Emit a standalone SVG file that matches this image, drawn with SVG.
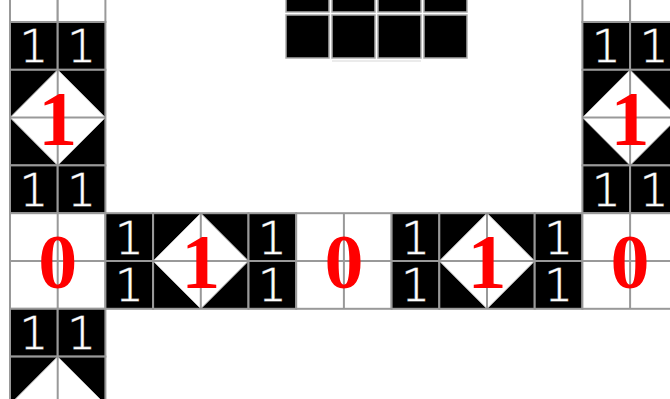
<svg xmlns="http://www.w3.org/2000/svg" width="670" height="399" viewBox="0 0 670 399">
<style>
.blk{fill:#000;stroke:#999;stroke-width:2}
.wht{fill:#fff;stroke:#999;stroke-width:2}
.sq{fill:#000;stroke:#aaa;stroke-width:1.5}
.dia{fill:#fff;stroke:#bbb;stroke-width:1}
.grid{fill:none;stroke:#999;stroke-width:2}
.one{font-family:"DejaVu Sans","Liberation Sans",sans-serif;font-weight:200;font-size:45px;fill:#fff;stroke:#999;stroke-width:1.2;paint-order:stroke;text-anchor:middle}
.red{font-family:"Liberation Serif","DejaVu Serif",serif;font-weight:bold;font-size:78px;fill:#f00;text-anchor:middle}
</style>
<rect width="670" height="399" fill="#fff"/>

<!-- top middle squares -->
<g id="top-squares">
<rect class="sq" x="286" y="-31" width="43" height="43"/>
<rect class="sq" x="332" y="-31" width="43" height="43"/>
<rect class="sq" x="378" y="-31" width="43" height="43"/>
<rect class="sq" x="424" y="-31" width="43" height="43"/>
<rect class="sq" x="286" y="15" width="43" height="43"/>
<rect class="sq" x="332" y="15" width="43" height="43"/>
<rect class="sq" x="378" y="15" width="43" height="43"/>
<rect class="sq" x="424" y="15" width="43" height="43"/>
<line x1="332" y1="61" x2="421" y2="61" stroke="#e4e4e4" stroke-width="1.5"/>
</g>

<!-- left column -->
<g id="L-top">
<rect class="wht" x="10" y="-25.8" width="47.7" height="47.8"/>
<rect class="wht" x="57.7" y="-25.8" width="47.7" height="47.8"/>
</g>
<g id="L-ones-1">
<rect class="blk" x="10" y="22" width="47.7" height="47.8"/>
<rect class="blk" x="57.7" y="22" width="47.7" height="47.8"/>
<text class="one" x="33.9" y="62.3">1</text>
<text class="one" x="81.6" y="62.3">1</text>
</g>
<g id="L-diamond-1">
<rect x="10" y="69.8" width="95.4" height="95.6" fill="#000"/>
<polygon class="dia" points="57.7,69.8 105.4,117.6 57.7,165.4 10,117.6"/>
<rect class="grid" x="10" y="69.8" width="95.4" height="95.6"/>
<path class="grid" d="M57.7,69.8V165.4M10,117.6H105.4"/>
<text class="red" x="57.7" y="144.6">1</text>
</g>
<g id="L-ones-2">
<rect class="blk" x="10" y="165.4" width="47.7" height="47.8"/>
<rect class="blk" x="57.7" y="165.4" width="47.7" height="47.8"/>
<text class="one" x="33.9" y="205.7">1</text>
<text class="one" x="81.6" y="205.7">1</text>
</g>
<g id="L-zero">
<rect class="wht" x="10" y="213.2" width="95.4" height="95.6"/>
<path class="grid" d="M57.7,213.2V308.8M10,261H105.4"/>
<text class="red" x="57.7" y="288">0</text>
</g>
<g id="L-ones-3">
<rect class="blk" x="10" y="308.8" width="47.7" height="47.8"/>
<rect class="blk" x="57.7" y="308.8" width="47.7" height="47.8"/>
<text class="one" x="33.9" y="349.1">1</text>
<text class="one" x="81.6" y="349.1">1</text>
</g>
<g id="L-diamond-2">
<rect x="10" y="356.6" width="95.4" height="95.6" fill="#000"/>
<polygon class="dia" points="57.7,356.6 105.4,404.4 57.7,452.2 10,404.4"/>
<rect class="grid" x="10" y="356.6" width="95.4" height="95.6"/>
<path class="grid" d="M57.7,356.6V452.2M10,404.4H105.4"/>
</g>

<!-- horizontal bar -->
<g id="B-ones-1">
<rect class="blk" x="105.4" y="213.2" width="47.7" height="47.8"/>
<rect class="blk" x="105.4" y="261" width="47.7" height="47.8"/>
<text class="one" x="129.3" y="253.5">1</text>
<text class="one" x="129.3" y="301.3">1</text>
</g>
<g id="B-diamond-1">
<rect x="153.1" y="213.2" width="95.4" height="95.6" fill="#000"/>
<polygon class="dia" points="200.8,213.2 248.5,261 200.8,308.8 153.1,261"/>
<rect class="grid" x="153.1" y="213.2" width="95.4" height="95.6"/>
<path class="grid" d="M200.8,213.2V308.8M153.1,261H248.5"/>
<text class="red" x="200.8" y="288">1</text>
</g>
<g id="B-ones-2">
<rect class="blk" x="248.5" y="213.2" width="47.7" height="47.8"/>
<rect class="blk" x="248.5" y="261" width="47.7" height="47.8"/>
<text class="one" x="272.4" y="253.5">1</text>
<text class="one" x="272.4" y="301.3">1</text>
</g>
<g id="B-zero">
<rect class="wht" x="296.2" y="213.2" width="95.4" height="95.6"/>
<path class="grid" d="M343.9,213.2V308.8M296.2,261H391.6"/>
<text class="red" x="343.9" y="288">0</text>
</g>
<g id="B-ones-3">
<rect class="blk" x="391.6" y="213.2" width="47.7" height="47.8"/>
<rect class="blk" x="391.6" y="261" width="47.7" height="47.8"/>
<text class="one" x="415.5" y="253.5">1</text>
<text class="one" x="415.5" y="301.3">1</text>
</g>
<g id="B-diamond-2">
<rect x="439.3" y="213.2" width="95.4" height="95.6" fill="#000"/>
<polygon class="dia" points="487,213.2 534.7,261 487,308.8 439.3,261"/>
<rect class="grid" x="439.3" y="213.2" width="95.4" height="95.6"/>
<path class="grid" d="M487,213.2V308.8M439.3,261H534.7"/>
<text class="red" x="487" y="288">1</text>
</g>
<g id="B-ones-4">
<rect class="blk" x="534.7" y="213.2" width="47.7" height="47.8"/>
<rect class="blk" x="534.7" y="261" width="47.7" height="47.8"/>
<text class="one" x="558.6" y="253.5">1</text>
<text class="one" x="558.6" y="301.3">1</text>
</g>

<!-- right column -->
<g id="R-top">
<rect class="wht" x="582.4" y="-25.8" width="47.7" height="47.8"/>
<rect class="wht" x="630.1" y="-25.8" width="47.7" height="47.8"/>
</g>
<g id="R-ones-1">
<rect class="blk" x="582.4" y="22" width="47.7" height="47.8"/>
<rect class="blk" x="630.1" y="22" width="47.7" height="47.8"/>
<text class="one" x="606.3" y="62.3">1</text>
<text class="one" x="654" y="62.3">1</text>
</g>
<g id="R-diamond">
<rect x="582.4" y="69.8" width="95.4" height="95.6" fill="#000"/>
<polygon class="dia" points="630.1,69.8 677.8,117.6 630.1,165.4 582.4,117.6"/>
<rect class="grid" x="582.4" y="69.8" width="95.4" height="95.6"/>
<path class="grid" d="M630.1,69.8V165.4M582.4,117.6H677.8"/>
<text class="red" x="630.1" y="144.6">1</text>
</g>
<g id="R-ones-2">
<rect class="blk" x="582.4" y="165.4" width="47.7" height="47.8"/>
<rect class="blk" x="630.1" y="165.4" width="47.7" height="47.8"/>
<text class="one" x="606.3" y="205.7">1</text>
<text class="one" x="654" y="205.7">1</text>
</g>
<g id="R-zero">
<rect class="wht" x="582.4" y="213.2" width="95.4" height="95.6"/>
<path class="grid" d="M630.1,213.2V308.8M582.4,261H677.8"/>
<text class="red" x="630.1" y="288">0</text>
</g>

<g id="connectors"/>
</svg>
